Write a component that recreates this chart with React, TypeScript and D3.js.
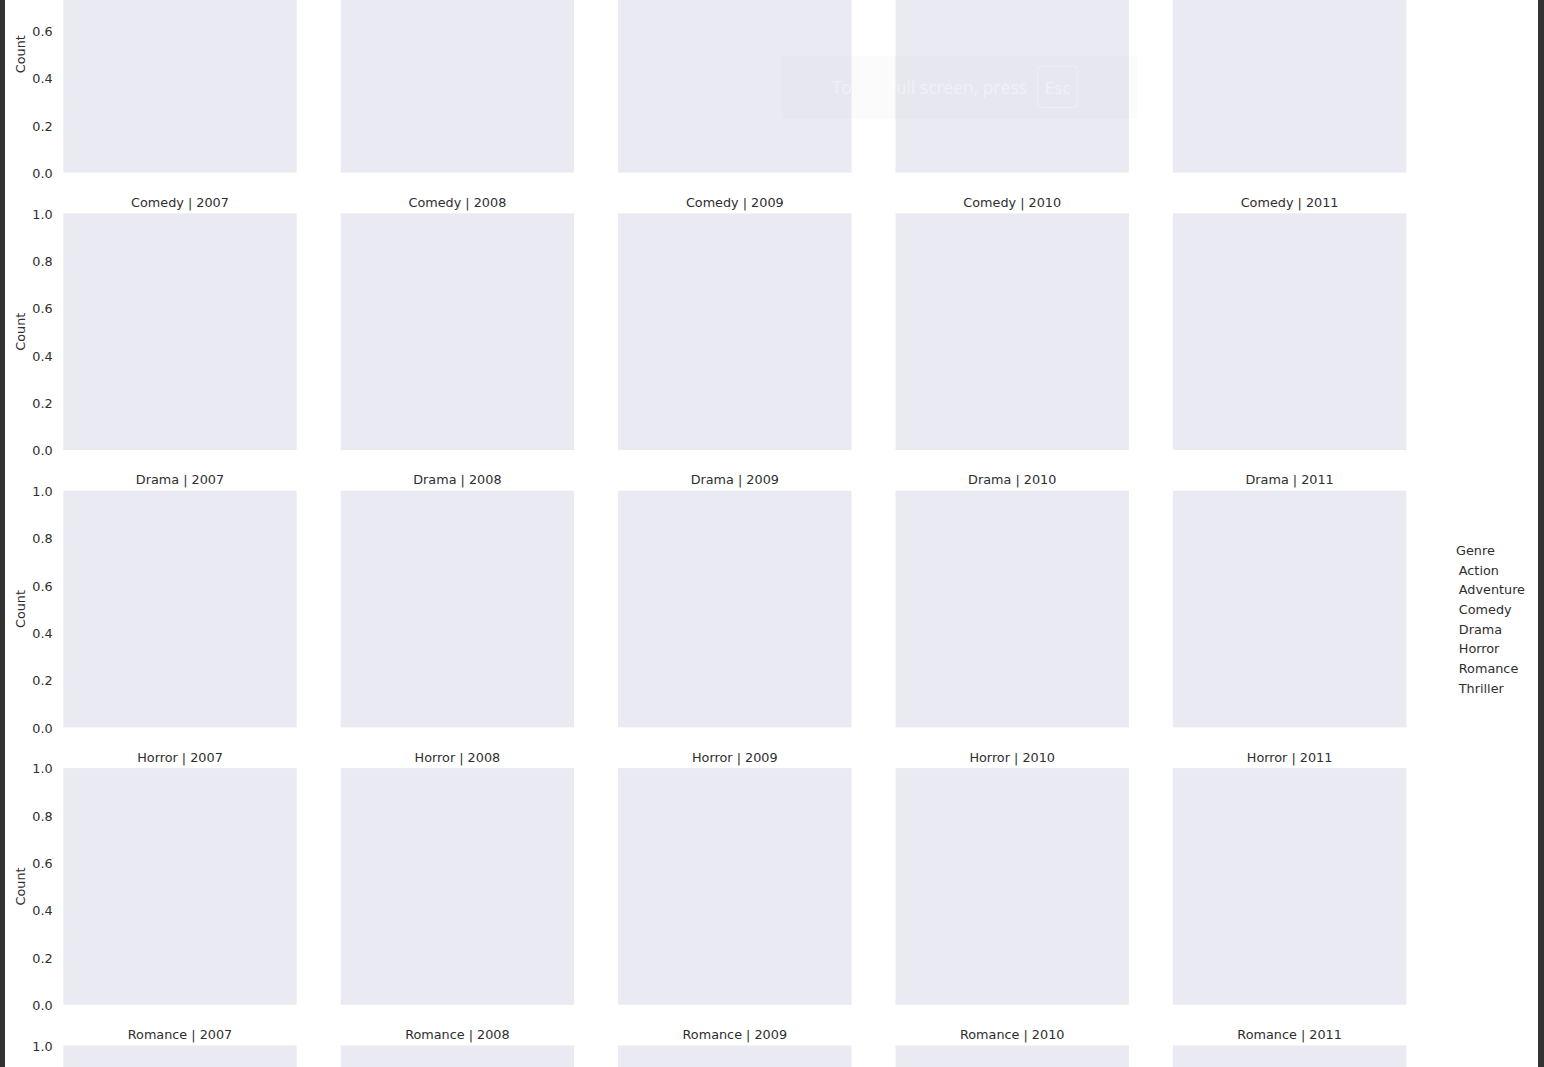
import React from 'react';
import * as d3 from 'd3';

// facet grid: rows = genre, cols = year; every panel is empty
const genres = ['Action', 'Adventure', 'Comedy', 'Drama', 'Horror', 'Romance', 'Thriller'];
const years = [2007, 2008, 2009, 2010, 2011];
const yTicks = [0, 0.2, 0.4, 0.6, 0.8, 1.0];
const legendTitle = 'Genre';
const yLabel = 'Count';

const W = 1544;
const H = 1067;
const panelW = 233.4;
const panelH = 236.7;
const stride = 277.4;
const textColor = '#2e2e2e';
const font = '"DejaVu Sans", Verdana, sans-serif';

const App: React.FC = () => {
  // panel left edges by column, panel tops by row (the grid is scrolled: Adventure row starts above the frame)
  const colX = d3.scaleLinear().domain([0, years.length - 1]).range([63.3, 63.3 + (years.length - 1) * stride]);
  const rowY = d3.scaleLinear().domain([1, 5]).range([-64.1, -64.1 + 4 * stride]);

  return (
    <div style={{ position: 'fixed', left: 0, top: 0, width: W, height: H, background: '#fff' }}>
      <svg width={W} height={H} viewBox={`0 0 ${W} ${H}`} style={{ display: 'block' }} fontFamily={font}>
        <rect x={0} y={0} width={W} height={H} fill="#fff" />

        {genres.map((g, i) => {
          const top = rowY(i);
          const y = d3.scaleLinear().domain([0, 1]).range([top + panelH, top]);
          return (
            <g key={g}>
              {years.map((yr, j) => {
                const left = colX(j);
                return (
                  <g key={yr}>
                    <rect x={left} y={top} width={panelW} height={panelH} fill="#EAEAF2" />
                    <text
                      x={left + panelW / 2}
                      y={top - 6.3}
                      textAnchor="middle"
                      fontSize={12.8}
                      fill={textColor}
                    >
                      {`${g} | ${yr}`}
                    </text>
                  </g>
                );
              })}
              {/* y axis on first column only */}
              {yTicks.map(t => (
                <text
                  key={t}
                  x={52.7}
                  y={y(t)}
                  dy="0.42em"
                  textAnchor="end"
                  fontSize={12.8}
                  fill={textColor}
                >
                  {t.toFixed(1)}
                </text>
              ))}
              <text
                transform={`translate(24.5, ${top + panelH / 2}) rotate(-90)`}
                textAnchor="middle"
                fontSize={12.8}
                fill={textColor}
              >
                {yLabel}
              </text>
            </g>
          );
        })}

        {/* legend with no handles */}
        <g fontSize={12.8} fill={textColor}>
          <text x={1456} y={550} dy="0.36em">{legendTitle}</text>
          {genres.map((g, i) => (
            <text key={g} x={1458.8} y={570 + i * 19.68} dy="0.36em">{g}</text>
          ))}
        </g>

        {/* faint browser fullscreen notice */}
        <g fontFamily='"Open Sans", Roboto, sans-serif'>
          <rect x={782} y={56} width={354.7} height={62.3} fill="#d8d8e0" opacity={0.09} />
          <text
            x={831.7}
            y={94}
            fontSize={19}
            textLength={195}
            lengthAdjust="spacingAndGlyphs"
            fill="#fff"
            opacity={0.4}
          >
            To exit full screen, press
          </text>
          <rect x={1037.7} y={66} width={39.6} height={41.7} rx={4} fill="none" stroke="#fff" strokeOpacity={0.3} />
          <text x={1057.5} y={94} textAnchor="middle" fontSize={17} fill="#fff" opacity={0.4}>Esc</text>
        </g>

        {/* dark window edges */}
        <rect x={0} y={0} width={5} height={H} fill="#333" />
        <rect x={1538} y={0} width={6} height={H} fill="#333" />
      </svg>
    </div>
  );
};

export default App;
